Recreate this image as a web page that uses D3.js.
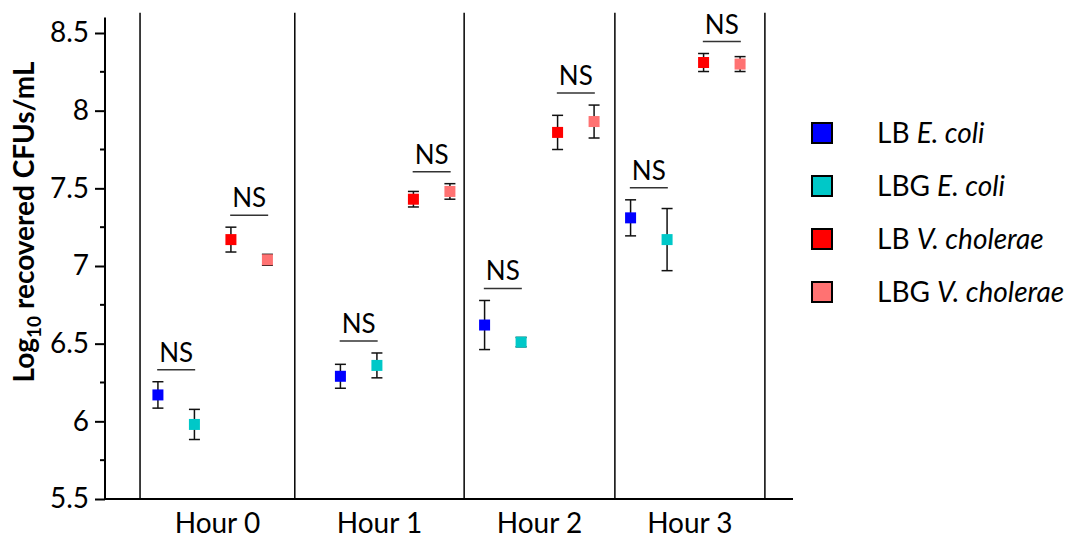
<!DOCTYPE html>
<html>
<head>
<meta charset="utf-8">
<script src="https://cdn.jsdelivr.net/npm/d3@7"></script>
<style>
  body { margin: 0; background: #fff; }
  text { font-family: Lato, "Open Sans", sans-serif; fill: #000; }
</style>
</head>
<body>
<svg id="chart"></svg>
<script>
// Données
const hours = ["Hour 0", "Hour 1", "Hour 2", "Hour 3"];
const hourFirstColumn = [1.45, 6.45, 10.4, 14.4];
const dividers = [0.96, 5.2, 9.84, 13.97, 18.08];

const seriesNames = [
  ["LB ", "E. coli"],
  ["LBG ", "E. coli"],
  ["LB ", "V. cholerae"],
  ["LBG ", "V. cholerae"]
];
const seriesColors = ["#0000ff", "#00c8c8", "#ff0000", "#ff7272"];

const lbEcoli = [6.17, 6.29, 6.62, 7.31];
const lbgEcoli = [5.98, 6.36, 6.51, 7.17];
const lbVchol = [7.17, 7.43, 7.86, 8.31];
const lbgVchol = [7.04, 7.48, 7.93, 8.30];

const lbEcoliErr = [0.085, 0.077, 0.158, 0.116];
const lbgEcoliErr = [0.097, 0.08, 0.03, 0.2];
const lbVcholErr = [0.08, 0.05, 0.11, 0.058];
const lbgVcholErr = [0.035, 0.05, 0.106, 0.048];

const yTicks = [5.5, 6, 6.5, 7, 7.5, 8, 8.5];
const yMinorTicks = [5.75, 6.25, 6.75, 7.25, 7.75, 8.25];

const means = [lbEcoli, lbgEcoli, lbVchol, lbgVchol];
const errs = [lbEcoliErr, lbgEcoliErr, lbVcholErr, lbgVcholErr];

// Dimensions
const width = 1081;
const height = 541;

const svg = d3.select("#chart")
  .attr("width", width)
  .attr("height", height);

const x = d3.scaleLinear().domain([0, 18.85]).range([105, 793]);
const y = d3.scaleLinear().domain([5.5, 8.5]).range([499, 33]);

// Séparateurs verticaux
svg.append("g")
  .selectAll("line")
  .data(dividers)
  .enter()
  .append("line")
  .attr("x1", d => x(d)).attr("x2", d => x(d))
  .attr("y1", y(8.63)).attr("y2", y(5.5))
  .attr("stroke", "#000")
  .attr("stroke-width", 1.5);

// Axe Y
const yAxis = svg.append("g")
  .attr("transform", `translate(${x(0)},0)`)
  .call(d3.axisLeft(y).tickValues(yTicks).tickSize(10).tickPadding(6)
    .tickFormat(d => d3.format("~g")(d)));
yAxis.select(".domain").attr("d", `M0,${y(8.6)}V${y(5.5)}`).attr("stroke-width", 2);
yAxis.selectAll(".tick line").attr("stroke-width", 2);
yAxis.selectAll(".tick text").style("font-size", "28px").attr("fill", "#000");

svg.append("g")
  .selectAll("line")
  .data(yMinorTicks)
  .enter()
  .append("line")
  .attr("x1", x(0) - 5).attr("x2", x(0))
  .attr("y1", d => y(d)).attr("y2", d => y(d))
  .attr("stroke", "#000")
  .attr("stroke-width", 2);

// Axe X
svg.append("line")
  .attr("x1", x(0)).attr("x2", x(18.85))
  .attr("y1", y(5.5)).attr("y2", y(5.5))
  .attr("stroke", "#000")
  .attr("stroke-width", 2);

svg.append("g")
  .selectAll("text")
  .data(hours)
  .enter()
  .append("text")
  .attr("x", (d, i) => x((dividers[i] + dividers[i + 1]) / 2))
  .attr("y", 533)
  .attr("text-anchor", "middle")
  .style("font-size", "28px")
  .text(d => d);

// Titre Y
const title = svg.append("text")
  .attr("transform", `translate(34, 222) rotate(-90)`)
  .attr("text-anchor", "middle")
  .style("font-size", "28px")
  .style("font-weight", "bold");
title.append("tspan").text("Log");
title.append("tspan").attr("dy", 7).style("font-size", "19px").text("10");
title.append("tspan").attr("dy", -7).text(" recovered CFUs/mL");

// Points et barres d'erreur
const points = [];
means.forEach((serie, s) => {
  serie.forEach((v, h) => {
    points.push({ s: s, h: h, col: hourFirstColumn[h] + s, v: v, e: errs[s][h] });
  });
});

const errG = svg.append("g").attr("stroke", "#111").attr("stroke-width", 1.5);
points.forEach(p => {
  const cx = x(p.col);
  errG.append("line").attr("x1", cx).attr("x2", cx).attr("y1", y(p.v + p.e)).attr("y2", y(p.v - p.e));
  errG.append("line").attr("x1", cx - 5.5).attr("x2", cx + 5.5).attr("y1", y(p.v + p.e)).attr("y2", y(p.v + p.e));
  errG.append("line").attr("x1", cx - 5.5).attr("x2", cx + 5.5).attr("y1", y(p.v - p.e)).attr("y2", y(p.v - p.e));
});

svg.append("g")
  .selectAll("rect")
  .data(points)
  .enter()
  .append("rect")
  .attr("x", d => x(d.col) - 5.5)
  .attr("y", d => y(d.v) - 5.5)
  .attr("width", 11)
  .attr("height", 11)
  .attr("fill", d => seriesColors[d.s]);

// Annotations NS
const pairs = [[0, 1], [2, 3]];
hours.forEach((hName, h) => {
  pairs.forEach(pair => {
    const c = (hourFirstColumn[h] + pair[0] + hourFirstColumn[h] + pair[1]) / 2;
    const top = d3.max(pair, s => means[s][h] + errs[s][h]);
    const ly = y(top) - 12;
    svg.append("line")
      .attr("x1", x(c) - 19).attr("x2", x(c) + 19)
      .attr("y1", ly).attr("y2", ly)
      .attr("stroke", "#333")
      .attr("stroke-width", 1.5);
    svg.append("text")
      .attr("x", x(c))
      .attr("y", ly - 8)
      .attr("text-anchor", "middle")
      .style("font-size", "26px")
      .text("NS");
  });
});

// Légende
const legend = svg.append("g").attr("transform", "translate(812,133)");
seriesNames.forEach((n, i) => {
  const row = legend.append("g").attr("transform", `translate(0,${i * 53})`);
  row.append("rect")
    .attr("x", 0).attr("y", -10)
    .attr("width", 20).attr("height", 20)
    .attr("fill", seriesColors[i])
    .attr("stroke", "#000")
    .attr("stroke-width", 2);
  const t = row.append("text")
    .attr("x", 65).attr("y", 10)
    .style("font-size", "28px");
  t.append("tspan").text(n[0]);
  t.append("tspan").style("font-style", "italic").text(n[1]);
});
</script>
</body>
</html>
